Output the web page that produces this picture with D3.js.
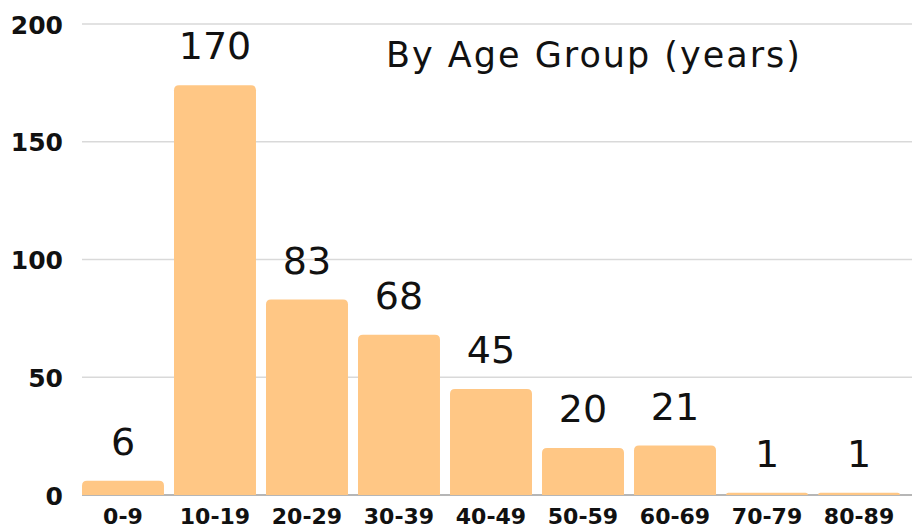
<!DOCTYPE html>
<html>
<head>
<meta charset="utf-8">
<script src="https://cdn.jsdelivr.net/npm/d3@7"></script>
<style>
  body { margin: 0; background: #fff; }
  svg { display: block; font-family: "DejaVu Sans", sans-serif; }
  .tick line { display: none; }
  .domain { display: none; }
</style>
</head>
<body>
<div id="chart"></div>
<script>
// data
const ageGroups = ["0-9", "10-19", "20-29", "30-39", "40-49", "50-59", "60-69", "70-79", "80-89"];
const counts = [6, 174, 83, 68, 45, 20, 21, 1, 1];
const countLabels = ["6", "170", "83", "68", "45", "20", "21", "1", "1"];
const yTicks = [0, 50, 100, 150, 200];
const title = "By Age Group (years)";

// CONSTANTS
const width = 914,
    height = 531,
    margin = { top: 24, bottom: 36, left: 82, right: 14 };

const svg = d3.select("#chart")
    .append("svg")
    .attr("width", width)
    .attr("height", height);

const xScale = d3.scaleBand()
    .domain(ageGroups)
    .range([margin.left, 900])
    .paddingInner(0.109)
    .paddingOuter(0);

const yScale = d3.scaleLinear()
    .domain([0, 200])
    .range([height - margin.bottom, margin.top]);

// gridlines
svg.append("g")
    .selectAll("line")
    .data(yTicks)
    .join("line")
    .attr("x1", margin.left)
    .attr("x2", width - 2)
    .attr("y1", d => yScale(d))
    .attr("y2", d => yScale(d))
    .attr("stroke", d => d === 0 ? "#9e9e9e" : "#d9d9d9")
    .attr("stroke-width", 1.5);

// y axis labels
const yAxis = d3.axisLeft(yScale).tickValues(yTicks).tickSize(0).tickPadding(0);
svg.append("g")
    .attr("transform", `translate(63,0)`)
    .call(yAxis)
    .selectAll("text")
    .attr("font-family", "DejaVu Sans")
    .attr("font-size", 25)
    .attr("font-weight", "bold")
    .attr("fill", "#111")
    .attr("dy", "0.36em");

// x axis labels
const xAxis = d3.axisBottom(xScale).tickSize(0).tickPadding(0);
svg.append("g")
    .attr("transform", `translate(0,${height - margin.bottom})`)
    .call(xAxis)
    .selectAll("text")
    .attr("font-family", "DejaVu Sans")
    .attr("font-size", 22)
    .attr("font-weight", "bold")
    .attr("fill", "#111")
    .attr("y", 29)
    .attr("dy", 0);

// bars, rounded top corners
const r = 5;
svg.append("g")
    .selectAll("path")
    .data(counts)
    .join("path")
    .attr("fill", "#ffc785")
    .attr("d", (d, i) => {
        const x = xScale(ageGroups[i]), w = xScale.bandwidth();
        const y0 = yScale(0), y1 = yScale(d);
        const rr = Math.min(r, (y0 - y1));
        return `M${x},${y0} V${y1 + rr} Q${x},${y1} ${x + rr},${y1} H${x + w - rr} Q${x + w},${y1} ${x + w},${y1 + rr} V${y0} Z`;
    });

// value labels
svg.append("g")
    .selectAll("text")
    .data(counts)
    .join("text")
    .attr("x", (d, i) => xScale(ageGroups[i]) + xScale.bandwidth() / 2)
    .attr("y", d => yScale(d) - 26)
    .attr("text-anchor", "middle")
    .attr("font-size", 38)
    .attr("fill", "#111")
    .text((d, i) => countLabels[i]);

// title
svg.append("text")
    .attr("x", 386)
    .attr("y", 67)
    .attr("font-size", 35)
    .attr("letter-spacing", 2)
    .attr("fill", "#111")
    .text(title);
</script>
</body>
</html>
